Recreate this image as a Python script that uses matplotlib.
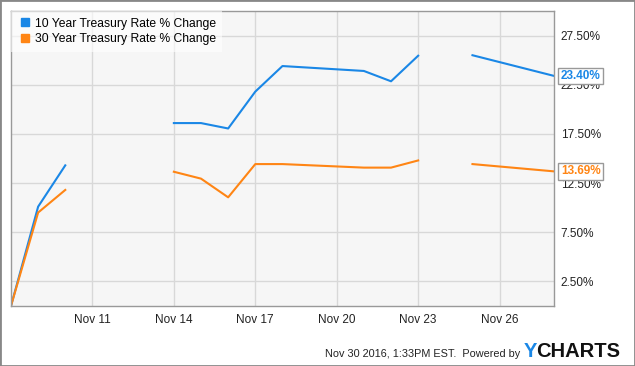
import numpy as np
import matplotlib
matplotlib.use("Agg")
import matplotlib.pyplot as plt
import matplotlib.dates as mdates
from matplotlib.lines import Line2D
from matplotlib.patches import Rectangle

plt.rcParams['font.family'] = ['Liberation Sans', 'DejaVu Sans']

dates = np.array(['2016-11-08', '2016-11-09', '2016-11-10', '2016-11-11',
                  '2016-11-14', '2016-11-15', '2016-11-16', '2016-11-17',
                  '2016-11-18', '2016-11-21', '2016-11-22', '2016-11-23',
                  '2016-11-24', '2016-11-25', '2016-11-28'], dtype='datetime64[D]')
ten_year = [0, 10.1, 14.3, np.nan, 18.6, 18.6, 18.05, 21.8, 24.4, 23.9,
            22.85, 25.45, np.nan, 25.5, 23.40]
thirty_year = [0, 9.5, 11.8, np.nan, 13.65, 12.95, 11.05, 14.43, 14.43,
               14.07, 14.07, 14.8, np.nan, 14.43, 13.69]
names = ["10 Year Treasury Rate % Change", "30 Year Treasury Rate % Change"]
yticks = [2.5, 7.5, 12.5, 17.5, 22.5, 27.5]
xticks = np.array(['2016-11-11', '2016-11-14', '2016-11-17', '2016-11-20',
                   '2016-11-23', '2016-11-26'], dtype='datetime64[D]')

blue = '#1a87e6'
orange = '#ff8514'

fig = plt.figure(figsize=(6.35, 3.66), dpi=100)
ax = fig.add_axes([0.0173, 0.164, 0.855, 0.806])
ax.set_facecolor('#f6f6f6')

ax.plot(dates, ten_year, color=blue, lw=1.5)
ax.plot(dates, thirty_year, color=orange, lw=1.5)

ax.set_xlim(dates[0], dates[-1])
ax.set_ylim(0, 30)
ax.set_xticks(xticks)
ax.xaxis.set_major_formatter(mdates.DateFormatter('%b %d'))
ax.set_yticks(yticks)
ax.set_yticklabels(['%.2f%%' % v for v in yticks])
ax.yaxis.tick_right()
ax.tick_params(length=0, labelsize=8.5, colors='#222222')
ax.tick_params(axis='x', pad=6)
ax.tick_params(axis='y', pad=5)
ax.grid(True, color='#d8d8d8', lw=1)
ax.set_axisbelow(True)
for s in ax.spines.values():
    s.set_color('#999999')
    s.set_linewidth(1)

# last value labels
for vals, c in [(ten_year, blue), (thirty_year, orange)]:
    ax.annotate('%.2f%%' % vals[-1], xy=(1, vals[-1]), xycoords=('axes fraction', 'data'),
                xytext=(5, 0), textcoords='offset points', va='center', ha='left',
                fontsize=8.5, fontweight='bold', color=c,
                bbox=dict(boxstyle='square,pad=0.2', fc='white', ec='#999999', lw=1))

handles = [Line2D([], [], marker='s', ls='none', color=blue, markersize=6),
           Line2D([], [], marker='s', ls='none', color=orange, markersize=6)]
leg = ax.legend(handles, names, loc='upper left', fontsize=8.7, frameon=True,
                fancybox=False, borderaxespad=0, handletextpad=0.2,
                handlelength=1.2, labelspacing=0.3, borderpad=0.55)
leg.get_frame().set_facecolor('white')
leg.get_frame().set_alpha(0.6)
leg.get_frame().set_linewidth(0)

fig.text(0.819, 0.025, "Nov 30 2016, 1:33PM EST.  Powered by", ha='right',
         va='baseline', fontsize=7.8, color='#222222')
ytxt = fig.text(0.824, 0.025, "Y", ha='left', va='baseline', fontsize=14.5,
                fontweight='bold', color='#1a87e6')
renderer = fig.canvas.get_renderer()
bb = ytxt.get_window_extent(renderer)
fig.text(bb.x1 / fig.bbox.width, 0.025, "CHARTS", ha='left', va='baseline',
         fontsize=14.5, fontweight='bold', color='#111111')

fig.patches.append(Rectangle((0, 0), 1, 1, transform=fig.transFigure,
                             fill=False, ec='#888888', lw=2))

fig.savefig('out.png', dpi=100)
